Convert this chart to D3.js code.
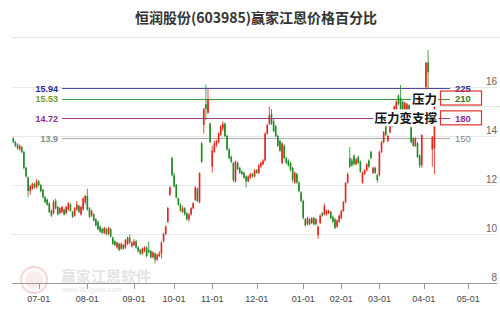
<!DOCTYPE html>
<html><head><meta charset="utf-8">
<script src="https://cdn.jsdelivr.net/npm/d3@7"></script>
<style>
html,body{margin:0;padding:0;background:#fff;}
svg{display:block;}
</style></head>
<body>
<svg id="c" width="500" height="309"></svg>
<script>
const titleText = "恒润股份(603985)赢家江恩价格百分比";
// candles: [open, high, low, close], one per trading day
const candles = [
[13.9,13.95,13.7,13.75],[13.75,13.8,13.55,13.6],[13.65,13.7,13.45,13.5],[13.45,13.65,13.4,13.6],[13.55,13.6,13.3,13.35],
[13.35,13.4,12.65,12.7],[12.7,12.75,12.3,12.35],[12.3,12.35,11.5,11.75],[11.75,12.0,11.6,11.95],[11.85,12.1,11.8,12.05],
[12.05,12.1,11.85,11.9],[11.9,12.25,11.85,12.15],[12.15,12.2,11.95,12.0],[12.0,12.05,11.7,11.75],[11.8,11.85,11.45,11.5],
[11.5,11.55,11.25,11.3],[11.4,11.45,11.15,11.2],[11.25,11.3,10.85,10.9],[10.95,11.0,10.7,10.75],[10.85,11.4,10.8,11.3],
[11.35,11.45,11.0,11.05],[11.1,11.15,10.75,10.8],[10.85,11.1,10.8,11.05],[10.9,11.15,10.85,11.1],[11.0,11.05,10.75,10.8],
[10.85,11.15,10.8,11.1],[11.0,11.3,10.95,11.25],[11.2,11.25,10.9,10.95],[10.9,10.95,10.65,10.7],[10.75,11.1,10.7,11.05],
[11.0,11.35,10.95,11.2],[11.15,11.2,10.85,10.9],[10.8,11.15,10.75,11.1],[11.0,11.5,10.95,11.45],[11.3,11.6,11.2,11.55],
[11.55,11.85,10.95,11.0],[11.05,11.1,10.65,10.7],[10.75,11.0,10.7,10.95],[10.8,10.85,10.5,10.55],[10.6,10.65,10.3,10.35],
[10.5,10.55,10.15,10.2],[10.3,10.35,10.05,10.1],[10.2,10.25,10.0,10.05],[10.05,10.3,10.0,10.25],[10.2,10.25,9.95,10.0],
[10.0,10.3,9.95,10.25],[10.2,10.25,9.85,9.9],[9.85,9.9,9.55,9.6],[9.7,9.75,9.5,9.55],[9.45,9.7,9.4,9.65],
[9.6,9.65,9.3,9.35],[9.4,9.65,9.35,9.6],[9.55,9.6,9.35,9.4],[9.45,9.8,9.4,9.75],[9.6,9.9,9.55,9.85],
[9.85,9.98,9.6,9.65],[9.5,9.7,9.45,9.65],[9.55,9.8,9.5,9.7],[9.7,9.75,9.4,9.45],[9.45,9.5,9.25,9.3],
[9.35,9.4,9.15,9.2],[9.2,9.45,9.15,9.4],[9.3,9.5,9.25,9.45],[9.45,9.5,9.05,9.1],[9.35,9.7,9.2,9.25],
[9.3,9.35,9.0,9.05],[9.05,9.3,9.0,9.25],[9.2,9.25,8.8,8.95],[8.95,9.2,8.9,9.15],[9.1,9.3,9.05,9.2],
[9.2,9.7,9.0,9.65],[9.7,10.05,9.65,10.0],[10.0,10.35,9.95,10.3],[10.5,11.1,10.45,11.05],[11.6,11.95,11.55,11.9],
[13.1,13.15,12.35,12.4],[12.4,12.5,11.9,11.95],[12.0,12.05,11.45,11.5],[11.45,11.5,11.15,11.2],[11.2,11.25,10.9,10.95],
[10.9,11.15,10.85,11.05],[11.05,11.1,10.75,10.8],[10.85,10.9,10.55,10.6],[10.6,10.85,10.5,10.8],[10.8,11.1,10.75,11.05],
[11.05,11.3,11.0,11.25],[11.4,11.95,11.35,11.9],[11.85,11.9,11.3,11.35],[11.3,12.5,11.25,12.5],[13.7,13.75,12.9,12.95],
[14.45,15.15,14.1,15.1],[15.3,16.1,14.65,15.1],[14.95,15.96,14.9,15.5],[14.5,14.55,13.7,13.75],[12.75,13.6,12.5,13.4],
[13.35,13.8,13.3,13.7],[13.65,13.85,13.55,13.8],[13.75,14.15,13.7,14.1],[14.05,14.45,14.0,14.4],[14.3,14.6,14.2,14.5],
[14.5,14.55,13.95,14.0],[14.0,14.05,13.4,13.45],[13.45,13.5,13.05,13.1],[13.15,13.2,12.9,12.95],[12.9,12.95,12.1,12.2],
[12.15,13.0,12.1,12.95],[12.9,12.95,12.6,12.65],[12.7,12.75,12.45,12.5],[12.55,12.6,12.4,12.45],[12.5,12.55,12.25,12.3],
[12.35,12.4,11.9,12.15],[12.15,12.4,12.1,12.35],[12.3,12.5,12.25,12.45],[12.45,12.5,12.3,12.35],[12.35,12.65,12.3,12.6],
[12.6,12.65,12.45,12.5],[12.5,12.85,12.45,12.8],[12.75,12.95,12.7,12.9],[12.85,13.05,12.8,13.0],[13.0,14.15,12.95,14.1],
[14.1,14.5,14.05,14.45],[14.5,15.2,14.45,14.85],[14.9,15.1,14.45,14.5],[14.6,14.7,14.15,14.2],[14.4,14.45,13.95,14.0],
[14.0,14.05,13.55,13.6],[13.8,13.85,13.35,13.4],[12.9,13.75,12.85,13.7],[13.6,13.65,13.05,13.1],[13.1,13.15,12.85,12.9],
[13.0,13.05,12.75,12.8],[12.9,12.95,12.55,12.6],[12.7,12.75,12.1,12.2],[12.1,12.55,12.05,12.5],[12.45,12.5,12.05,12.1],
[12.1,12.15,11.7,11.75],[11.7,11.75,11.3,11.35],[11.35,11.4,10.6,10.65],[10.6,10.65,10.3,10.35],[10.4,10.7,10.35,10.65],
[10.6,10.65,10.35,10.4],[10.45,10.7,10.4,10.65],[10.65,10.7,10.35,10.4],[10.4,10.65,10.35,10.6],[9.95,10.35,9.8,10.3],
[10.45,10.8,10.4,10.75],[10.85,10.9,10.7,10.75],[10.8,11.25,10.75,11.15],[10.8,11.0,10.75,10.95],[10.85,11.0,10.8,10.95],
[10.9,10.95,10.6,10.65],[10.7,10.75,10.45,10.5],[10.6,10.65,10.2,10.25],[10.3,10.6,10.25,10.55],[10.5,10.8,10.45,10.75],
[10.65,11.0,10.6,10.95],[10.95,11.35,10.9,11.3],[11.3,12.1,11.25,12.1],[12.1,12.5,12.05,12.45],[13.1,13.55,12.7,12.75],
[13.0,13.1,12.75,12.8],[13.2,13.25,12.8,12.85],[12.85,13.1,12.8,13.05],[13.15,13.2,12.85,12.9],[12.95,13.0,12.5,12.55],
[12.1,12.55,12.05,12.5],[12.45,12.65,12.4,12.6],[12.6,12.9,12.55,12.85],[13.0,13.05,12.7,12.75],[13.35,13.4,13.05,13.1],
[12.5,12.75,12.45,12.7],[12.7,12.75,12.45,12.5],[12.4,12.45,12.1,12.2],[12.4,13.4,12.35,13.35],[13.35,13.8,13.3,13.75],
[13.75,14.2,13.7,14.15],[14.55,14.6,14.0,14.05],[13.8,14.05,13.75,14.0],[14.15,14.75,14.1,14.7],[14.9,14.95,14.35,14.4],
[14.65,15.25,14.6,15.2],[15.0,15.45,14.95,15.4],[15.65,15.7,15.25,15.3],[15.55,16.08,15.05,15.1],[15.4,15.45,14.75,14.8],
[14.85,15.4,14.8,15.35],[14.9,15.35,14.85,15.3],[15.25,15.3,14.4,14.45],[14.35,14.4,13.7,13.75],[13.9,13.95,13.55,13.6],
[13.6,13.95,13.55,13.9],[13.7,13.75,13.1,13.15],[13.2,13.25,12.7,12.8],[12.8,14.05,12.7,14.05],[15.45,15.45,15.45,15.45],
[16.0,17.0,15.9,17.0],[17.0,17.5,15.95,16.6],[14.94,14.94,14.94,14.94],[13.45,14.0,12.75,13.95],[13.5,15.35,12.45,15.2]
];
const monthLabels = ["07-01","08-01","09-01","10-01","11-01","12-01","01-01","02-01","03-01","04-01","05-01"];
const monthIdx = [12,35,57,76,94,115,137,155,173,194,215];
const yTicks = [8,10,12,14,16];
const levelPrices = [15.94,15.53,14.72,13.9];
const levelLabels = ["15.94","15.53","14.72","13.9"];
const levelPct = ["225","210","180","150"];
const levelColors = ["#4b4ba6","#3f9a3f","#a03ca0","#aaaaaa"];
const levelTextColors = ["#2b2b8c","#7a9a22","#8e2a8e","#8a8a8a"];
const pctTextColors = ["#2b2b8c","#2e7d2e","#8e2a8e","#8a8a8a"];
const noteTexts = ["压力","压力变支撑"];
const notePrices = [15.53,14.72];

const svg = d3.select("#c");
const x = d3.scaleLinear().domain([12,215]).range([38.7,468.3]);
const y = d3.scaleLinear().domain([8,16]).range([283,87]);
const up = "#e5231d", down = "#1f8a22";

// title
svg.append("text").attr("x",256).attr("y",23).attr("text-anchor","middle")
  .attr("font-family","Noto Sans CJK SC").attr("font-weight","bold").attr("font-size",14)
  .attr("fill","#333").text(titleText);
svg.append("line").attr("x1",12).attr("x2",500).attr("y1",37.5).attr("y2",37.5).attr("stroke","#e6e6e6");

// gridlines
svg.append("g").selectAll("line").data(yTicks.filter(d=>d>8)).join("line")
  .attr("x1",12).attr("x2",497).attr("y1",d=>Math.round(y(d))+0.5).attr("y2",d=>Math.round(y(d))+0.5)
  .attr("stroke","#e8e8e8");
svg.append("g").selectAll("text").data(yTicks).join("text")
  .attr("x",497).attr("y",d=>y(d)-2).attr("text-anchor","end")
  .attr("font-family","Liberation Sans, Arial").attr("font-size",10).attr("fill","#666").text(d=>d);

// watermark
const wm = svg.append("g").attr("opacity",0.55);
wm.append("circle").attr("cx",34).attr("cy",280).attr("r",13).attr("fill","none").attr("stroke","#f0b8b8").attr("stroke-width",2);
wm.append("circle").attr("cx",34).attr("cy",280).attr("r",9).attr("fill","#f7dede");
wm.append("text").attr("x",61).attr("y",282).attr("font-family","Noto Sans CJK SC").attr("font-weight","bold")
  .attr("font-size",15).attr("fill","#cfcfcf").text("赢家江恩软件");
wm.append("text").attr("x",62).attr("y",292).attr("font-family","Liberation Sans, Arial")
  .attr("font-size",7).attr("fill","#cfcfcf").text("www.360gann.com");

// x axis
svg.append("line").attr("x1",12).attr("x2",497).attr("y1",283.5).attr("y2",283.5).attr("stroke","#999");
svg.append("g").selectAll("line").data(monthIdx).join("line")
  .attr("x1",d=>Math.round(x(d))+0.5).attr("x2",d=>Math.round(x(d))+0.5).attr("y1",283).attr("y2",289).attr("stroke","#999");
svg.append("g").selectAll("text").data(monthLabels).join("text")
  .attr("x",(d,i)=>x(monthIdx[i])).attr("y",302).attr("text-anchor","middle")
  .attr("font-family","Liberation Sans, Arial").attr("font-size",9).attr("fill","#444").text(d=>d);

// level lines
const lv = svg.append("g");
lv.selectAll("line").data(levelPrices).join("line")
  .attr("x1",62).attr("x2",450).attr("y1",d=>Math.round(y(d))+0.5).attr("y2",d=>Math.round(y(d))+0.5)
  .attr("stroke",(d,i)=>levelColors[i]).attr("stroke-width",1);
lv.selectAll("text.l").data(levelLabels).join("text").attr("class","l")
  .attr("x",58).attr("y",(d,i)=>y(levelPrices[i])+3.5).attr("text-anchor","end")
  .attr("font-family","Liberation Sans, Arial").attr("font-weight","bold").attr("font-size",9)
  .attr("fill",(d,i)=>levelTextColors[i]).text(d=>d);

// candles
const cg = svg.append("g");
candles.forEach((c,i)=>{
  const [o,h,l,cl] = c;
  const prev = i>0 ? candles[i-1][3] : o;
  const isUp = cl>o || (cl===o && cl>=prev);
  const col = isUp ? up : down;
  const cx = x(i);
  cg.append("line").attr("x1",cx).attr("x2",cx).attr("y1",y(h)).attr("y2",y(l)).attr("stroke",col).attr("stroke-width",0.8);
  const top = y(Math.max(o,cl)), bot = y(Math.min(o,cl));
  cg.append("rect").attr("x",cx-0.8).attr("width",1.6).attr("y",top).attr("height",Math.max(1,bot-top)).attr("fill",col);
});

// last price dotted line
const last = candles[candles.length-1][3];
svg.append("line").attr("x1",x(candles.length-1)+2).attr("x2",500).attr("y1",y(last)).attr("y2",y(last))
  .attr("stroke","#8cc88c").attr("stroke-dasharray","1,2");

// right pct labels
lv.selectAll("text.p").data(levelPct).join("text").attr("class","p")
  .attr("x",455).attr("y",(d,i)=>y(levelPrices[i])+3.5)
  .attr("font-family","Liberation Sans, Arial").attr("font-weight",(d,i)=>i<3?"bold":"normal").attr("font-size",9.5)
  .attr("fill",(d,i)=>pctTextColors[i]).text(d=>d);

// annotations
const notes = svg.append("g");
const noteRight = 437;
noteTexts.forEach((t,i)=>{
  const yy = y(notePrices[i]);
  const tx = notes.append("text").attr("x",noteRight).attr("y",yy+5).attr("text-anchor","end")
    .attr("font-family","Noto Sans CJK SC").attr("font-weight","bold").attr("font-size",12.5).attr("fill","#111").text(t);
  const bb = tx.node().getBBox();
  notes.insert("rect","text").attr("x",bb.x-1).attr("y",bb.y+1).attr("width",bb.width+2).attr("height",bb.height-2).attr("fill","#fff");
  notes.append("rect").attr("x",440.5).attr("y",yy-7.5).attr("width",41).attr("height",14)
    .attr("fill","none").attr("stroke","#e03030").attr("stroke-width",1.2);
});
</script>
</body></html>
